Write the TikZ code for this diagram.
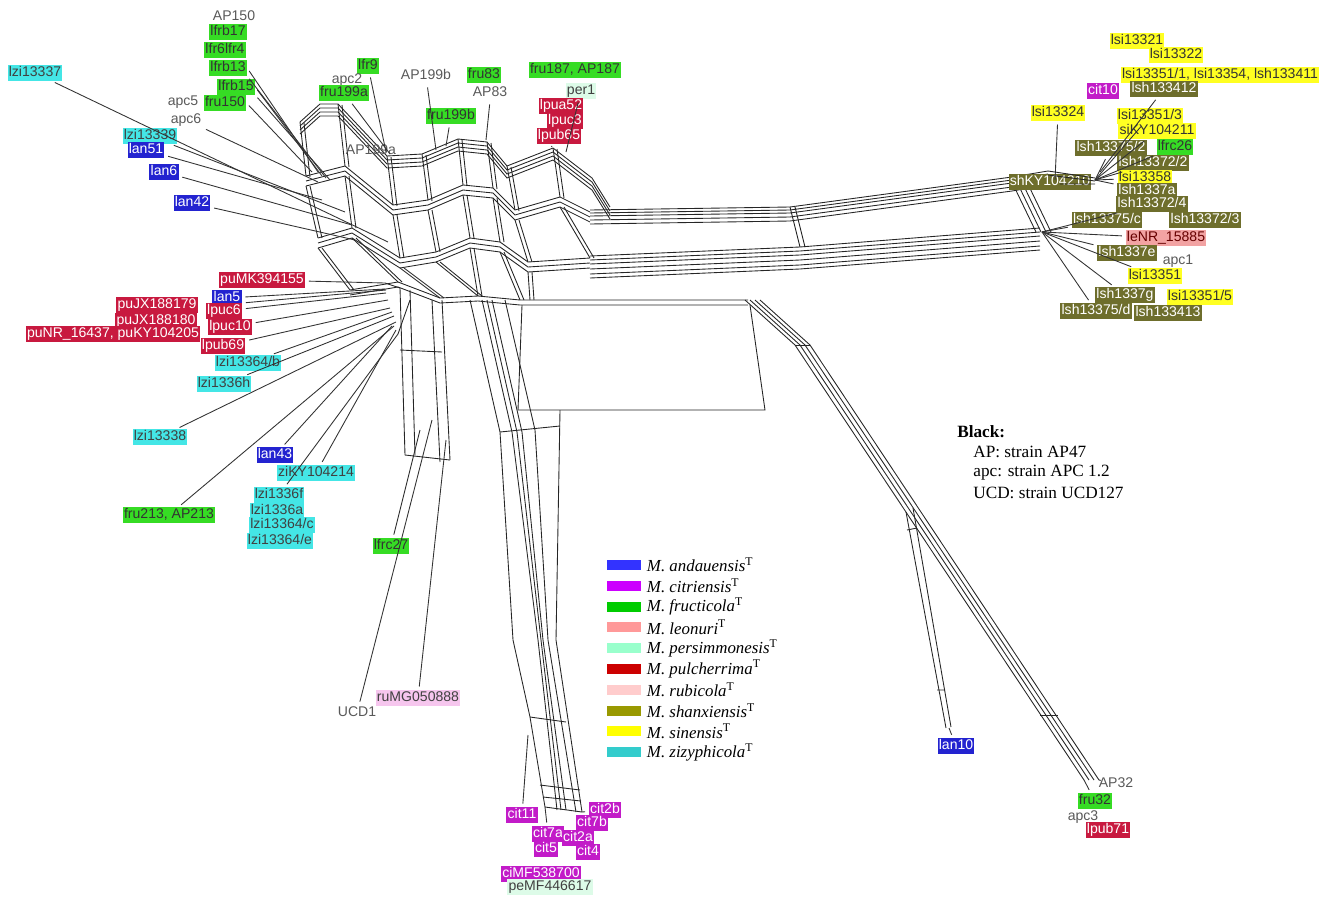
\documentclass[tikz,border=0pt]{standalone}
\usepackage{fontspec}
\setmainfont{Liberation Serif}
\newfontfamily\tipfont{Liberation Sans}
\usetikzlibrary{positioning}
\definecolor{anC}{HTML}{2323D0}
\definecolor{ciC}{HTML}{C21BC8}
\definecolor{frC}{HTML}{36DC24}
\definecolor{leC}{HTML}{F2A3A3}
\definecolor{peC}{HTML}{DDFBE8}
\definecolor{puC}{HTML}{C8193F}
\definecolor{ruC}{HTML}{F6C6EE}
\definecolor{shC}{HTML}{6E6E2C}
\definecolor{siC}{HTML}{FFFF22}
\definecolor{ziC}{HTML}{44E6E6}
\definecolor{kAn}{HTML}{3333FF}
\definecolor{kCi}{HTML}{CC00FF}
\definecolor{kFr}{HTML}{00CC00}
\definecolor{kLe}{HTML}{FF9999}
\definecolor{kPe}{HTML}{99FFCC}
\definecolor{kPu}{HTML}{CC0000}
\definecolor{kRu}{HTML}{FFCCCC}
\definecolor{kSh}{HTML}{999900}
\definecolor{kSi}{HTML}{FFFF00}
\definecolor{kZi}{HTML}{33CCCC}
\tikzset{
tip/.style={font=\tipfont\fontsize{8}{9}\selectfont,inner sep=0.7pt,text height=5.8pt,text depth=1.5pt},
anT/.style={tip,fill=anC,text=white},
ciT/.style={tip,fill=ciC,text=white},
frT/.style={tip,fill=frC,text=black!80},
leT/.style={tip,fill=leC,text=red!40!black},
peT/.style={tip,fill=peC,text=black!75},
puT/.style={tip,fill=puC,text=white},
ruT/.style={tip,fill=ruC,text=black!75},
shT/.style={tip,fill=shC,text=white},
siT/.style={tip,fill=siC,text=black!80},
ziT/.style={tip,fill=ziC,text=black!75},
plainT/.style={tip,text=black!65},
net/.style={line width=0.5pt,black!85},
leaf/.style={line width=0.5pt,black!80,shorten <=2pt},
swatch/.style={minimum width=0.68cm,minimum height=0.2cm,inner sep=0pt},
keytext/.style={font=\fontsize{9.6}{10}\selectfont,inner sep=0pt},
blacktext/.style={font=\fontsize{9.8}{11}\selectfont,anchor=west,inner sep=0pt}
}
\begin{document}
\begin{tikzpicture}[x=0.02cm,y=-0.02cm]
\useasboundingbox (0,0) rectangle (1328,896);
% core mesh
\foreach \o in {0,4,8,12}
  \draw[net,shift={(0,\o)}] (300,122)--(320,104)--(338,104)--(387,156)--(422,154)--(458,139)--(487,142)--(507,166)--(553,148)--(592,178)--(610,207);
\foreach \o in {0,5,10}
  \draw[net,shift={(0,\o)}] (306,176)--(345,166)--(393,205)--(428,200)--(463,185)--(493,188)--(515,210)--(560,197)--(590,212);
\foreach \o in {0,5,10}
  \draw[net,shift={(0,\o)}] (318,238)--(352,228)--(400,258)--(436,252)--(470,238)--(500,242)--(528,262)--(590,258);
\foreach \o in {0,5}
  \draw[net,shift={(0,\o)}] (350,290)--(398,282)--(440,298)--(478,296)--(520,300)--(748,300);
\foreach \x/\y/\u/\v in {300/122/306/176,338/104/345/166,387/156/393/205,422/154/428/200,458/139/463/185,487/142/493/188,507/166/515/210,553/148/560/197}
  \draw[net] (\x,\y)--(\u,\v) (\x+4,\y+1)--(\u+4,\v+1);
\foreach \x/\y/\u/\v in {306/186/318/238,345/176/352/228,393/215/400/258,428/210/436/252,463/195/470/238,493/198/500/242,515/220/528/262,560/207/590/258}
  \draw[net] (\x,\y)--(\u,\v) (\x+4,\y)--(\u+4,\v);
\foreach \x/\y/\u/\v in {318/248/350/290,352/238/398/282,400/268/440/298,436/262/478/296,470/248/478/296,500/252/520/300,528/272/530/300}
  \draw[net] (\x,\y)--(\u,\v) (\x+4,\y)--(\u+4,\v);
% bands to the right
\foreach \o in {0,3,6,10,14}
  \draw[net,shift={(0,\o)}] (590,210)--(790,207)--(1012,177)--(1048,171);
\foreach \o in {0,4,8,13,18,22}
  \draw[net,shift={(0,\o)}] (590,256)--(800,247)--(1040,228);
\draw[net] (790,207)--(800,247) (795,207)--(805,247);
\foreach \o in {0,5,10,15}
  \draw[net,shift={(\o,0)}] (1010,178)--(1036,232);
% big cell and band to AP32
\draw[net] (522,305)--(518,410)--(765,410)--(750,305);
\foreach \o in {0,5,10,15}
  \draw[net,shift={(\o,0)}] (745,300)--(795,345)--(1084,780);
\draw[net] (795,345)--(810,345) (1040,715)--(1058,715);
% lan10 wedge
\draw[net] (906,512)--(946,728);
\draw[net] (913,508)--(951,727);
\draw[net] (907,530)--(917,528) (937,690)--(945,690);
% band down to cit
\draw[net] (470,300)--(500,432)--(513,640)--(530,717)--(545,807);
\draw[net] (482,300)--(512,432)--(538,640)--(557,810);
\draw[net] (487,300)--(517,432)--(541,640)--(561,810);
\draw[net] (492,300)--(522,432)--(543,640)--(566,810);
\draw[net] (505,300)--(535,430)--(548,640)--(576,812);
\draw[net] (560,410)--(556,640)--(582,812);
\draw[net] (500,432)--(560,426) (530,717)--(566,722) (540,785)--(580,790) (543,797)--(581,801) (545,807)--(582,812);
% band down to UCD
\draw[net] (400,288)--(405,455) (410,290)--(415,455) (432,300)--(440,462) (442,300)--(450,460);
\draw[net] (400,350)--(442,352) (405,455)--(450,460);
% labels upper left
\node[plainT] (ap150) at (234,17) {AP150};
\node[frT] (lfrb17) at (228,32) {lfrb17};
\node[frT] (lfr6) at (225,50) {lfr6lfr4};
\node[frT] (lfrb13) at (228,68) {lfrb13};
\node[frT] (lfrb15) at (236,87) {lfrb15};
\node[frT] (fru150) at (225,103) {fru150};
\node[plainT] (apc5) at (183,102) {apc5};
\node[plainT] (apc6) at (186,120) {apc6};
\node[ziT] (lzi13337) at (35,73) {lzi13337};
\node[ziT] (lzi13339) at (150,136) {lzi13339};
\node[anT] (lan51) at (146,150) {lan51};
\node[anT] (lan6) at (164,172) {lan6};
\node[anT] (lan42) at (192,203) {lan42};
% labels top
\node[frT] (lfr9) at (368,66) {lfr9};
\node[plainT] (apc2) at (347,80) {apc2};
\node[frT] (fru199a) at (344,93) {fru199a};
\node[plainT] (ap199b) at (426,76) {AP199b};
\node[frT] (fru83) at (484,75) {fru83};
\node[plainT] (ap83) at (490,93) {AP83};
\node[frT] (fru199b) at (451,116) {fru199b};
\node[plainT] (ap199a) at (371,151) {AP199a};
\node[frT] (fru187) at (575,70) {fru187, AP187};
\node[peT] (per1) at (581,91) {per1};
\node[puT] (lpua52) at (561,106) {lpua52};
\node[puT] (lpuc3) at (565,121) {lpuc3};
\node[puT] (lpub65) at (559,136) {lpub65};
% labels right
\node[siT] (lsi13321) at (1137,41) {lsi13321};
\node[siT] (lsi13322) at (1176,55) {lsi13322};
\node[siT] (lsi13351a) at (1220,75) {lsi13351/1, lsi13354, lsh133411};
\node[ciT] (cit10) at (1103,91) {cit10};
\node[shT] (lsh133412) at (1164,89) {lsh133412};
\node[siT] (lsi13324) at (1058,113) {lsi13324};
\node[siT] (lsi13351b) at (1150,116) {lsi13351/3};
\node[siT] (siky) at (1157,131) {siKY104211};
\node[shT] (lsh13375b) at (1111,148) {lsh13375/2};
\node[frT] (lfrc26) at (1175,147) {lfrc26};
\node[shT] (lsh13372b) at (1153,163) {lsh13372/2};
\node[shT] (shky) at (1050,182) {shKY104210};
\node[siT] (lsi13358) at (1145,178) {lsi13358};
\node[shT] (lsh1337a) at (1147,191) {lsh1337a};
\node[shT] (lsh13372d) at (1152,204) {lsh13372/4};
\node[shT] (lsh13375c) at (1107,220) {lsh13375/c};
\node[shT] (lsh13372c) at (1205,220) {lsh13372/3};
\node[leT] (lenr) at (1166,238) {leNR\_15885};
\node[shT] (lsh1337e) at (1127,253) {lsh1337e};
\node[plainT] (apc1) at (1178,261) {apc1};
\node[siT] (lsi13351) at (1155,276) {lsi13351};
\node[shT] (lsh1337g) at (1125,295) {lsh1337g};
\node[siT] (lsi13351e) at (1200,297) {lsi13351/5};
\node[shT] (lsh13375d) at (1096,311) {lsh13375/d};
\node[shT] (lsh133413) at (1168,313) {lsh133413};
% labels left
\node[puT] (pumk) at (262,280) {puMK394155};
\node[anT] (lan5) at (227,298) {lan5};
\node[puT] (pujx79) at (157,305) {puJX188179};
\node[puT] (lpuc6) at (224,311) {lpuc6};
\node[puT] (pujx80) at (156,321) {puJX188180};
\node[puT] (lpuc10) at (230,327) {lpuc10};
\node[puT] (punr) at (113,334) {puNR\_16437, puKY104205};
\node[puT] (lpub69) at (223,346) {lpub69};
\node[ziT] (lzi13364b) at (248,363) {lzi13364/b};
\node[ziT] (lzi1336h) at (224,384) {lzi1336h};
\node[ziT] (lzi13338) at (160,437) {lzi13338};
\node[anT] (lan43) at (275,455) {lan43};
\node[ziT] (ziky) at (316,473) {ziKY104214};
\node[ziT] (lzi1336f) at (279,495) {lzi1336f};
\node[frT] (fru213) at (169,515) {fru213, AP213};
\node[ziT] (lzi1336a) at (277,511) {lzi1336a};
\node[ziT] (lzi13364c) at (282,525) {lzi13364/c};
\node[ziT] (lzi13364e) at (280,541) {lzi13364/e};
\node[frT] (lfrc27) at (391,546) {lfrc27};
% labels bottom
\node[ruT] (rumg) at (418,698) {ruMG050888};
\node[plainT] (ucd1) at (357,713) {UCD1};
\node[ciT] (cit11) at (522,815) {cit11};
\node[ciT] (cit2b) at (605,810) {cit2b};
\node[ciT] (cit7b) at (592,823) {cit7b};
\node[ciT] (cit7a) at (548,834) {cit7a};
\node[ciT] (cit2a) at (578,838) {cit2a};
\node[ciT] (cit5) at (546,849) {cit5};
\node[ciT] (cit4) at (588,852) {cit4};
\node[ciT] (cimf) at (541,874) {ciMF538700};
\node[peT] (pemf) at (550,887) {peMF446617};
\node[anT] (lan10) at (956,746) {lan10};
\node[plainT] (ap32) at (1116,784) {AP32};
\node[frT] (fru32) at (1095,801) {fru32};
\node[plainT] (apc3) at (1083,817) {apc3};
\node[puT] (lpub71) at (1108,830) {lpub71};
% leaf edges
\draw[leaf] (lzi13337) -- (388,242);
\draw[leaf] (apc6) -- (318,182);
\draw[leaf] (lzi13339) -- (345,212);
\draw[leaf] (lan51) -- (322,200);
\draw[leaf] (lan6) -- (352,225);
\draw[leaf] (lan42) -- (355,240);
\draw[leaf] (lfrb13.east) -- (318,172);
\draw[leaf] (lfrb13.south east) -- (326,178);
\draw[leaf] (lfrb15.east) -- (322,176);
\draw[leaf] (lfrb15.south east) -- (330,180);
\draw[leaf] (fru150.east) -- (312,172);
\draw[leaf] (lfr9) -- (386,152);
\draw[leaf] (fru199a) -- (390,154);
\draw[leaf] (ap199b) -- (436,150);
\draw[leaf] (fru199b) -- (446,146);
\draw[leaf] (ap83.south) -- (486,140);
\draw[leaf] (lpub65) -- (552,146);
\draw[leaf] (per1) -- (566,152);
\draw[leaf] (lsi13324) -- (1055,180);
\draw[leaf] (lsh133412) -- (1100,172);
\draw[net] (1048,171)--(1095,178) (1048,175)--(1095,181) (1060,184)--(1095,184);
\foreach \n in {lsh13375b,lsi13351b,siky,lsh13372b,lsi13358,lsh1337a,lfrc26}
  \draw[leaf] (\n) -- (1095,180);
\foreach \n in {lenr,lsh1337e,lsi13351,lsh1337g,lsh13375d,lsh13375c,lsh13372d}
  \draw[leaf] (\n) -- (1042,232);
\draw[leaf] (pumk) -- (385,283);
\draw[leaf] (lan5) -- (385,289);
\draw[leaf] (lpuc6) -- (386,293);
\draw[leaf] (lpuc6.north east) -- (386,290);
\draw[leaf] (lpuc10) -- (388,300);
\draw[leaf] (lpub69) -- (390,308);
\draw[leaf] (lzi13364b) -- (392,312);
\draw[leaf] (lzi1336h) -- (394,316);
\draw[leaf] (lzi13338) -- (396,322);
\draw[leaf] (lan43) -- (392,326);
\draw[leaf] (ziky) -- (396,330);
\draw[leaf] (fru213) -- (394,326);
\draw[leaf] (lzi1336f) -- (398,334);
\draw[net] (385,283)--(400,288) (398,334)--(410,300);
\draw[leaf] (ucd1) -- (432,420);
\draw[leaf] (rumg) -- (446,440);
\draw[leaf] (lfrc27) -- (420,430);
\draw[leaf] (cit11) -- (528,735);
\draw[leaf] (cit7a) -- (545,807);
\draw[leaf] (cit2b) -- (582,812);
\draw[leaf] (lan10) -- (949,728);
\draw[leaf] (ap32) -- (1099,780);
\draw[leaf] (fru32) -- (1084,780);
% legend
\foreach \c/\s [count=\i from 0] in {kAn/andauensis,kCi/citriensis,kFr/fructicola,kLe/leonuri,kPe/persimmonesis,kPu/pulcherrima,kRu/rubicola,kSh/shanxiensis,kSi/sinensis,kZi/zizyphicola}{
  \node[swatch,fill=\c] (key\i) at (624,565+20.8*\i) {};
  \node[keytext,right=3pt of key\i] {\textit{M. \s}\textsuperscript{T}};
}
\node[blacktext,font=\bfseries\fontsize{9.8}{11}\selectfont] (blk) at (957,432) {Black:};
\node[blacktext] (bap) at (973,452) {AP: strain AP47};
\node[blacktext] (bapc) at (973,473) {apc: strain APC 1.2};
\node[blacktext] (bucd) at (973,493) {UCD: strain UCD127};
\end{tikzpicture}
\end{document}
